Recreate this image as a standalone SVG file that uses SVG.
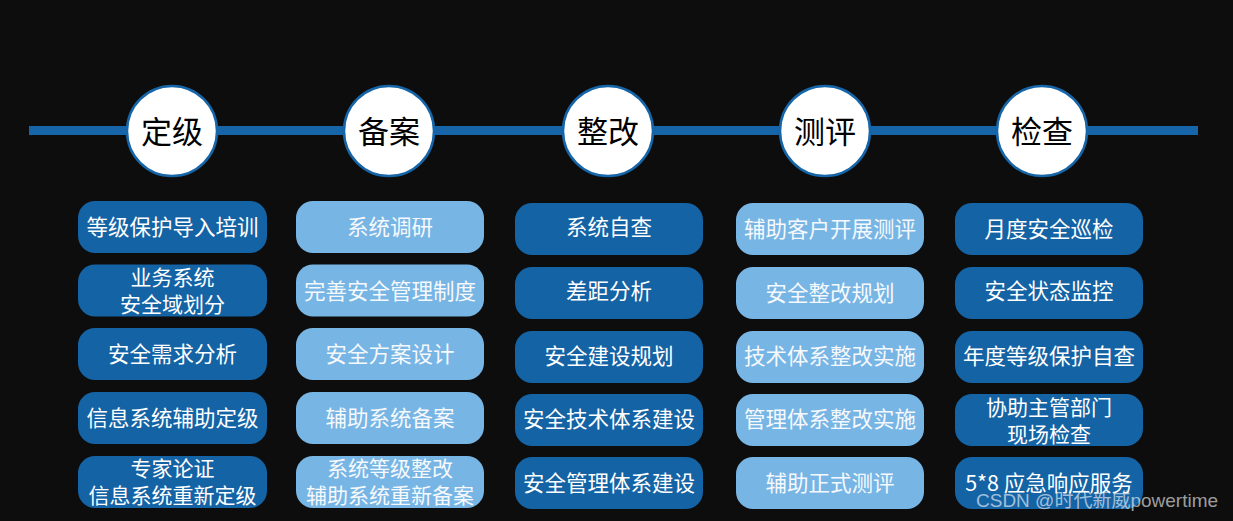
<svg xmlns="http://www.w3.org/2000/svg" width="1233" height="521" viewBox="0 0 1233 521">
<style>
.bg{fill:#0d0d0d}
.line{fill:#1565a8}
.circ{fill:#ffffff;stroke:#1565a8;stroke-width:2.5}
.ht{font-family:"Noto Sans CJK SC","Noto Sans",sans-serif;font-size:31px;fill:#000000;text-anchor:middle}
.dk{fill:#1463a5}
.lt{fill:#77b5e5}
.bt{font-family:"Noto Sans CJK SC","Noto Sans",sans-serif;font-size:21.5px;fill:#ffffff;text-anchor:middle}
.two{font-size:21px}
.lt2{fill:#f6f9fc}
.wm{font-family:"Liberation Sans","Noto Sans CJK SC",sans-serif;font-size:19px;fill:#ffffff;fill-opacity:0.6}
</style>
<rect class="bg" x="0" y="0" width="1233" height="521"/>
<g id="connectors">
<rect class="line" x="29" y="126" width="1169" height="9"/>
</g>
<g id="h1"><circle class="circ" cx="172" cy="131" r="45"/><text class="ht" x="172" y="143">定级</text></g>
<g id="h2"><circle class="circ" cx="389" cy="131" r="45"/><text class="ht" x="389" y="143">备案</text></g>
<g id="h3"><circle class="circ" cx="608" cy="131" r="45"/><text class="ht" x="608" y="143">整改</text></g>
<g id="h4"><circle class="circ" cx="825" cy="131" r="45"/><text class="ht" x="825" y="143">测评</text></g>
<g id="h5"><circle class="circ" cx="1042" cy="131" r="45"/><text class="ht" x="1042" y="143">检查</text></g>

<g id="c1r1"><rect class="dk" x="78" y="201" width="189" height="52" rx="17"/><text class="bt" x="172.5" y="235">等级保护导入培训</text></g>
<g id="c1r2"><rect class="dk" x="78" y="264.5" width="189" height="52" rx="17"/><text class="bt two" x="172.5" y="285">业务系统</text><text class="bt two" x="172.5" y="311.5">安全域划分</text></g>
<g id="c1r3"><rect class="dk" x="78" y="328" width="189" height="52" rx="17"/><text class="bt" x="172.5" y="362">安全需求分析</text></g>
<g id="c1r4"><rect class="dk" x="78" y="392" width="189" height="52" rx="17"/><text class="bt" x="172.5" y="426">信息系统辅助定级</text></g>
<g id="c1r5"><rect class="dk" x="78" y="456" width="189" height="52" rx="17"/><text class="bt two" x="172.5" y="475.5">专家论证</text><text class="bt two" x="172.5" y="503">信息系统重新定级</text></g>

<g id="c2r1"><rect class="lt" x="296" y="201" width="188" height="52" rx="17"/><text class="bt lt2" x="390" y="235">系统调研</text></g>
<g id="c2r2"><rect class="lt" x="296" y="264.5" width="188" height="52" rx="17"/><text class="bt lt2" x="390" y="298.5">完善安全管理制度</text></g>
<g id="c2r3"><rect class="lt" x="296" y="328" width="188" height="52" rx="17"/><text class="bt lt2" x="390" y="362">安全方案设计</text></g>
<g id="c2r4"><rect class="lt" x="296" y="392" width="188" height="52" rx="17"/><text class="bt lt2" x="390" y="426">辅助系统备案</text></g>
<g id="c2r5"><rect class="lt" x="296" y="456" width="188" height="52" rx="17"/><text class="bt two lt2" x="390" y="475.5">系统等级整改</text><text class="bt two lt2" x="390" y="503">辅助系统重新备案</text></g>

<g id="c3r1"><rect class="dk" x="515" y="203" width="188" height="52" rx="17"/><text class="bt" x="609" y="235">系统自查</text></g>
<g id="c3r2"><rect class="dk" x="515" y="267" width="188" height="52" rx="17"/><text class="bt" x="609" y="299">差距分析</text></g>
<g id="c3r3"><rect class="dk" x="515" y="331" width="188" height="52" rx="17"/><text class="bt" x="609" y="364">安全建设规划</text></g>
<g id="c3r4"><rect class="dk" x="515" y="394" width="188" height="52" rx="17"/><text class="bt" x="609" y="427">安全技术体系建设</text></g>
<g id="c3r5"><rect class="dk" x="515" y="457" width="188" height="52" rx="17"/><text class="bt" x="609" y="491">安全管理体系建设</text></g>

<g id="c4r1"><rect class="lt" x="736" y="203" width="188" height="52" rx="17"/><text class="bt lt2" x="830" y="237">辅助客户开展测评</text></g>
<g id="c4r2"><rect class="lt" x="736" y="267" width="188" height="52" rx="17"/><text class="bt lt2" x="830" y="301">安全整改规划</text></g>
<g id="c4r3"><rect class="lt" x="736" y="331" width="188" height="52" rx="17"/><text class="bt lt2" x="830" y="364">技术体系整改实施</text></g>
<g id="c4r4"><rect class="lt" x="736" y="394" width="188" height="52" rx="17"/><text class="bt lt2" x="830" y="427">管理体系整改实施</text></g>
<g id="c4r5"><rect class="lt" x="736" y="457" width="188" height="52" rx="17"/><text class="bt lt2" x="830" y="491">辅助正式测评</text></g>

<g id="c5r1"><rect class="dk" x="955" y="203" width="188" height="52" rx="17"/><text class="bt" x="1049" y="237">月度安全巡检</text></g>
<g id="c5r2"><rect class="dk" x="955" y="267" width="188" height="52" rx="17"/><text class="bt" x="1049" y="299">安全状态监控</text></g>
<g id="c5r3"><rect class="dk" x="955" y="331" width="188" height="52" rx="17"/><text class="bt" x="1049" y="364">年度等级保护自查</text></g>
<g id="c5r4"><rect class="dk" x="955" y="394" width="188" height="52" rx="17"/><text class="bt two" x="1049" y="415">协助主管部门</text><text class="bt two" x="1049" y="441.5">现场检查</text></g>
<g id="c5r5"><rect class="dk" x="955" y="457" width="188" height="52" rx="17"/><text class="bt" x="1049" y="491">5*8 应急响应服务</text></g>

<text class="wm" x="976" y="507">CSDN @时代新威powertime</text>
</svg>
